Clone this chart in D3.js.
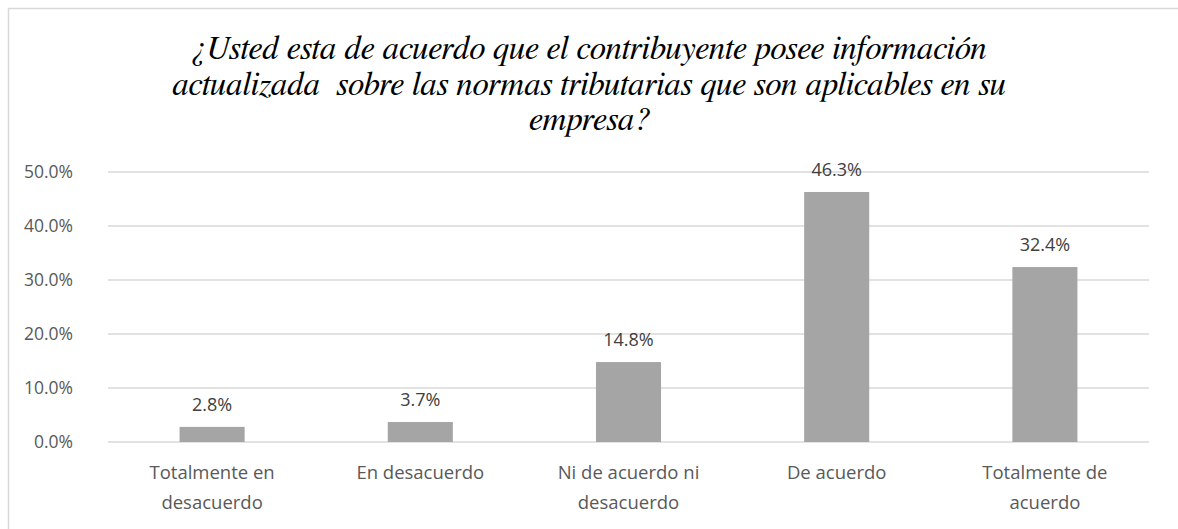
<!DOCTYPE html>
<html>
<head>
<meta charset="utf-8">
<script src="https://cdn.jsdelivr.net/npm/d3@7"></script>
<style>
  body { margin: 0; background: #fff; }
  svg { display: block; }
  .grid line { stroke: #d9d9d9; stroke-width: 1.3; }
  .axis text { font-family: 'Open Sans'; font-size: 17.5px; fill: #595959; }
</style>
</head>
<body>
<div id="chart"></div>
<script>
// chart data
let categories = [
  ["Totalmente en", "desacuerdo"],
  ["En desacuerdo"],
  ["Ni de acuerdo ni", "desacuerdo"],
  ["De acuerdo"],
  ["Totalmente de", "acuerdo"]
];
let values = [2.8, 3.7, 14.8, 46.3, 32.4];
let yTicks = [0, 10, 20, 30, 40, 50];
let titleLines = [
  "¿Usted esta de acuerdo que el contribuyente posee información",
  "actualizada  sobre las normas tributarias que son aplicables en su",
  "empresa?"
];

let W = 1178, H = 529;
let margin = {top: 172, right: 29, bottom: 87, left: 108};
let width = W - margin.left - margin.right,
    height = H - margin.top - margin.bottom;

let svg = d3.select("#chart").append("svg")
            .attr("width", W)
            .attr("height", H);

// outer chart border
svg.append("rect")
   .attr("x", 8.5).attr("y", 8.5)
   .attr("width", 1400).attr("height", 800)
   .attr("fill", "none")
   .attr("stroke", "#d9d9d9")
   .attr("stroke-width", 1.5);

// title, one text per line
svg.selectAll(".title")
   .data(titleLines)
   .enter().append("text")
   .attr("class", "title")
   .attr("x", 589)
   .attr("y", function(d, i) { return 59 + i * 35.5; })
   .attr("text-anchor", "middle")
   .style("font-family", "'FreeSerif'")
   .style("font-style", "italic")
   .style("font-size", "33px")
   .style("fill", "#000")
   .text(function(d) { return d.replace(/  /g, " \u00a0"); });

let g = svg.append("g")
           .attr("transform", "translate(" + margin.left + "," + margin.top + ")");

let x = d3.scaleBand()
          .domain(d3.range(categories.length))
          .range([0, width])
          .paddingInner(0.6875)
          .paddingOuter(0.34375);

let y = d3.scaleLinear()
          .domain([0, 50])
          .range([height, 0]);

// gridlines
g.append("g")
 .attr("class", "grid")
 .selectAll("line")
 .data(yTicks)
 .enter().append("line")
 .attr("x1", 0).attr("x2", width)
 .attr("y1", function(d) { return y(d); })
 .attr("y2", function(d) { return y(d); });

// y axis labels
g.append("g")
 .attr("class", "axis")
 .attr("transform", "translate(-35,0)")
 .call(d3.axisLeft(y).tickValues(yTicks).tickSize(0).tickPadding(0)
         .tickFormat(function(d) { return d.toFixed(1) + "%"; }))
 .call(function(a) { a.select(".domain").remove(); })
 .call(function(a) { a.selectAll("text").attr("font-family", null).attr("font-size", null); });

// bars
g.selectAll(".bar")
 .data(values)
 .enter().append("rect")
 .attr("class", "bar")
 .attr("x", function(d, i) { return x(i); })
 .attr("y", function(d) { return y(d); })
 .attr("width", x.bandwidth())
 .attr("height", function(d) { return height - y(d); })
 .attr("fill", "#a5a5a5");

// value labels
g.selectAll(".label")
 .data(values)
 .enter().append("text")
 .attr("class", "label")
 .attr("x", function(d, i) { return x(i) + x.bandwidth() / 2; })
 .attr("y", function(d) { return y(d) - 16; })
 .attr("text-anchor", "middle")
 .style("font-family", "'Open Sans'")
 .style("font-size", "18px")
 .style("fill", "#404040")
 .text(function(d) { return d.toFixed(1) + "%"; });

// category labels
let cat = g.selectAll(".cat")
 .data(categories)
 .enter().append("text")
 .attr("class", "cat")
 .attr("text-anchor", "middle")
 .attr("transform", function(d, i) {
   return "translate(" + (x(i) + x.bandwidth() / 2) + "," + (height + 37) + ")";
 })
 .style("font-family", "'Open Sans'")
 .style("font-size", "18.5px")
 .style("fill", "#595959");

cat.selectAll("tspan")
   .data(function(d) { return d; })
   .enter().append("tspan")
   .attr("x", 0)
   .attr("dy", function(d, i) { return i === 0 ? 0 : 30; })
   .text(function(d) { return d; });
</script>
</body>
</html>
